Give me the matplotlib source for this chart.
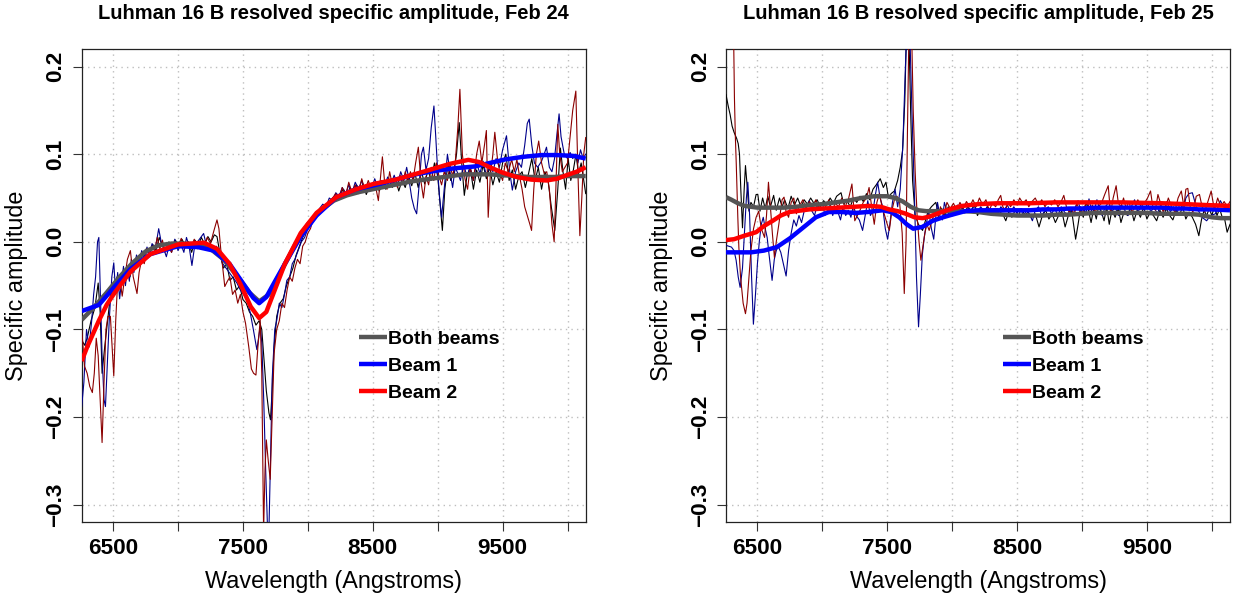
import matplotlib
matplotlib.use("Agg")
import matplotlib.pyplot as plt

plt.rcParams['font.family'] = ['Liberation Sans', 'DejaVu Sans']

# ---------------- data (wavelength in Angstrom, specific amplitude) ----------------
TITLES = ["Luhman 16 B resolved specific amplitude, Feb 24",
          "Luhman 16 B resolved specific amplitude, Feb 25"]
LEGEND_LABELS = ["Both beams", "Beam 1", "Beam 2"]
XTICKS = [6500, 7000, 7500, 8000, 8500, 9000, 9500, 10000]
XTICKLABELS = ["6500", "", "7500", "", "8500", "", "9500", ""]
YTICKS = [-0.3, -0.2, -0.1, 0.0, 0.1, 0.2]
YTICKLABELS = ["\u22120.3", "\u22120.2", "\u22120.1", "0.0", "0.1", "0.2"]

# ---- Feb 24 : raw (thin) curves ----
L_BOTH_RAW = [(6258,-0.112),(6280,-0.118),(6300,-0.110),(6330,-0.090),(6360,-0.075),(6385,-0.047),
 (6400,-0.080),(6415,-0.150),(6435,-0.120),(6455,-0.093),(6480,-0.060),(6505,-0.055),(6530,-0.040),
 (6555,-0.050),(6580,-0.035),(6605,-0.030),(6630,-0.040),(6655,-0.022),(6680,-0.030),(6705,-0.015),
 (6730,-0.020),(6755,-0.008),(6780,-0.012),(6805,-0.003),(6830,-0.010),(6855,0.005),(6880,-0.005),
 (6905,-0.010),(6930,0.000),(6955,-0.008),(6980,0.002),(7005,-0.006),(7030,0.003),(7055,-0.004),
 (7080,0.000),(7105,-0.012),(7130,0.002),(7155,-0.004),(7180,0.005),(7205,-0.003),(7230,0.006),
 (7255,0.000),(7280,0.008),(7300,0.006),(7325,-0.015),(7350,-0.030),(7375,-0.025),(7400,-0.044),
 (7425,-0.040),(7450,-0.055),(7475,-0.050),(7500,-0.066),(7525,-0.070),(7550,-0.080),(7575,-0.085),
 (7600,-0.095),(7625,-0.090),(7645,-0.100),(7660,-0.130),(7680,-0.170),(7700,-0.195),(7712,-0.203),
 (7725,-0.170),(7740,-0.120),(7760,-0.085),(7785,-0.070),(7810,-0.065),(7835,-0.050),(7860,-0.040),
 (7885,-0.030),(7910,-0.015),(7935,-0.005),(7960,0.005),(7985,0.012),(8010,0.020),(8040,0.025),
 (8070,0.033),(8100,0.038),(8130,0.042),(8160,0.045),(8190,0.050),(8220,0.052),(8250,0.055),
 (8275,0.060),(8300,0.052),(8325,0.062),(8350,0.055),(8375,0.065),(8400,0.058),(8425,0.066),
 (8450,0.054),(8475,0.064),(8500,0.060),(8525,0.068),(8550,0.058),(8575,0.066),(8600,0.060),
 (8625,0.070),(8650,0.062),(8675,0.072),(8700,0.058),(8725,0.070),(8750,0.062),(8775,0.076),
 (8800,0.064),(8825,0.078),(8850,0.062),(8875,0.080),(8900,0.066),(8925,0.082),(8950,0.070),
 (8975,0.090),(9000,0.075),(9020,0.040),(9036,0.013),(9055,0.060),(9080,0.090),(9100,0.070),
 (9125,0.080),(9145,0.100),(9166,0.136),(9185,0.090),(9205,0.053),(9225,0.075),(9250,0.085),
 (9275,0.060),(9300,0.082),(9325,0.068),(9350,0.088),(9375,0.072),(9400,0.085),(9425,0.065),
 (9450,0.080),(9475,0.068),(9500,0.090),(9525,0.100),(9550,0.070),(9575,0.082),(9600,0.060),
 (9625,0.075),(9650,0.080),(9675,0.062),(9700,0.078),(9725,0.095),(9750,0.070),(9775,0.085),
 (9800,0.060),(9825,0.080),(9850,0.070),(9875,0.040),(9902,0.013),(9925,0.060),(9945,0.107),
 (9965,0.080),(9985,0.060),(10005,0.095),(10025,0.070),(10045,0.082),(10065,0.100),(10085,0.078),
 (10105,0.090),(10125,0.070),(10140,0.055)]

L_B1_RAW = [(6258,-0.188),(6275,-0.160),(6295,-0.100),(6315,-0.120),(6335,-0.090),(6350,-0.060),
 (6365,-0.040),(6380,0.000),(6390,0.005),(6400,-0.050),(6415,-0.130),(6430,-0.180),(6441,-0.188),
 (6455,-0.140),(6470,-0.090),(6490,-0.040),(6505,-0.024),(6520,-0.059),(6535,-0.035),(6550,-0.065),
 (6565,-0.045),(6580,-0.028),(6595,-0.050),(6610,-0.030),(6625,-0.045),(6640,-0.020),(6660,-0.035),
 (6680,-0.015),(6700,-0.025),(6720,-0.010),(6740,-0.018),(6761,-0.006),(6780,-0.015),(6800,-0.002),
 (6825,-0.008),(6851,0.015),(6870,0.000),(6890,-0.008),(6910,-0.017),(6930,-0.005),(6950,-0.012),
 (6975,0.003),(7000,-0.010),(7020,-0.002),(7045,-0.012),(7065,0.005),(7085,-0.005),(7107,-0.027),
 (7125,-0.008),(7150,0.000),(7175,0.005),(7197,0.0095),(7220,-0.005),(7245,-0.002),(7270,-0.010),
 (7295,-0.005),(7320,-0.015),(7345,-0.025),(7370,-0.030),(7395,-0.035),(7420,-0.040),(7454,-0.047),
 (7480,-0.055),(7505,-0.060),(7531,-0.066),(7555,-0.080),(7580,-0.100),(7607,-0.123),(7620,-0.110),
 (7633,-0.097),(7645,-0.115),(7660,-0.180),(7675,-0.260),(7690,-0.330),(7700,-0.330),(7712,-0.250),
 (7725,-0.157),(7745,-0.100),(7761,-0.089),(7780,-0.070),(7800,-0.075),(7820,-0.060),(7838,-0.044),
 (7860,-0.040),(7880,-0.025),(7900,-0.020),(7925,-0.010),(7950,0.000),(7975,0.005),(8000,0.015),
 (8018,0.021),(8040,0.028),(8065,0.032),(8090,0.038),(8115,0.043),(8140,0.040),(8165,0.050),
 (8190,0.047),(8215,0.056),(8240,0.052),(8265,0.062),(8290,0.054),(8315,0.065),(8340,0.056),
 (8365,0.068),(8390,0.060),(8415,0.070),(8440,0.058),(8465,0.066),(8490,0.060),(8515,0.072),
 (8540,0.062),(8565,0.070),(8590,0.064),(8615,0.074),(8640,0.066),(8665,0.076),(8690,0.064),
 (8715,0.080),(8740,0.070),(8761,0.085),(8780,0.070),(8800,0.050),(8820,0.038),(8838,0.032),
 (8860,0.070),(8875,0.100),(8890,0.108),(8910,0.082),(8930,0.095),(8950,0.130),(8971,0.155),
 (8985,0.120),(9000,0.080),(9015,0.050),(9030,0.028),(9050,0.060),(9075,0.100),(9095,0.080),
 (9115,0.062),(9135,0.085),(9155,0.078),(9175,0.070),(9200,0.088),(9225,0.075),(9250,0.085),
 (9275,0.070),(9300,0.090),(9325,0.078),(9350,0.092),(9375,0.075),(9400,0.088),(9425,0.080),
 (9450,0.095),(9475,0.085),(9500,0.105),(9530,0.121),(9555,0.080),(9575,0.059),(9600,0.080),
 (9625,0.090),(9645,0.085),(9670,0.110),(9690,0.135),(9705,0.140),(9725,0.110),(9745,0.090),
 (9770,0.085),(9800,0.092),(9820,0.100),(9838,0.108),(9860,0.085),(9880,0.080),(9900,0.095),
 (9920,0.125),(9935,0.146),(9950,0.120),(9975,0.100),(10000,0.095),(10020,0.102),(10040,0.095),
 (10060,0.100),(10080,0.090),(10100,0.105),(10120,0.095),(10140,0.100)]

L_B2_RAW = [(6258,-0.100),(6280,-0.142),(6300,-0.150),(6320,-0.165),(6340,-0.172),(6355,-0.150),
 (6370,-0.110),(6385,-0.130),(6400,-0.180),(6415,-0.229),(6430,-0.160),(6445,-0.100),(6460,-0.085),
 (6479,-0.085),(6492,-0.120),(6505,-0.153),(6520,-0.090),(6535,-0.045),(6550,-0.040),(6570,-0.062),
 (6590,-0.040),(6610,-0.020),(6633,-0.010),(6655,-0.040),(6684,-0.059),(6700,-0.035),(6720,-0.020),
 (6740,-0.025),(6760,-0.008),(6780,-0.015),(6800,-0.005),(6820,-0.010),(6840,0.005),(6860,-0.008),
 (6880,0.002),(6900,-0.012),(6925,-0.003),(6950,-0.012),(6975,0.000),(7000,-0.005),(7025,0.004),
 (7050,-0.008),(7075,0.000),(7100,-0.006),(7125,0.003),(7150,-0.008),(7175,0.000),(7200,-0.005),
 (7225,0.005),(7250,-0.002),(7275,0.012),(7300,0.025),(7315,0.015),(7330,-0.010),(7345,-0.030),
 (7360,-0.051),(7380,-0.045),(7400,-0.040),(7420,-0.060),(7440,-0.055),(7460,-0.070),(7480,-0.060),
 (7500,-0.080),(7520,-0.093),(7545,-0.120),(7565,-0.145),(7582,-0.150),(7600,-0.152),(7615,-0.120),
 (7633,-0.089),(7645,-0.150),(7659,-0.330),(7670,-0.260),(7680,-0.226),(7695,-0.250),(7710,-0.271),
 (7725,-0.200),(7740,-0.127),(7760,-0.100),(7780,-0.090),(7800,-0.070),(7820,-0.075),(7840,-0.055),
 (7860,-0.040),(7880,-0.045),(7900,-0.030),(7920,-0.020),(7940,-0.025),(7960,-0.005),(7980,0.000),
 (8000,0.010),(8020,0.015),(8040,0.025),(8065,0.030),(8090,0.035),(8115,0.040),(8140,0.038),
 (8165,0.045),(8190,0.050),(8215,0.055),(8240,0.048),(8265,0.062),(8290,0.052),(8315,0.068),
 (8340,0.056),(8365,0.065),(8390,0.055),(8415,0.072),(8440,0.058),(8465,0.070),(8490,0.060),
 (8515,0.068),(8543,0.047),(8560,0.075),(8574,0.097),(8590,0.070),(8610,0.060),(8630,0.080),
 (8650,0.065),(8670,0.072),(8690,0.062),(8710,0.076),(8730,0.066),(8750,0.080),(8770,0.068),
 (8790,0.080),(8810,0.070),(8830,0.090),(8851,0.108),(8870,0.070),(8890,0.050),(8910,0.075),
 (8930,0.065),(8950,0.085),(8970,0.070),(8990,0.090),(9010,0.075),(9030,0.065),(9050,0.080),
 (9075,0.070),(9095,0.088),(9115,0.075),(9135,0.090),(9155,0.130),(9171,0.174),(9190,0.100),
 (9210,0.072),(9230,0.060),(9250,0.085),(9275,0.070),(9300,0.100),(9320,0.115),(9340,0.090),
 (9360,0.110),(9375,0.127),(9389,0.028),(9405,0.075),(9425,0.100),(9440,0.125),(9460,0.095),
 (9480,0.078),(9500,0.070),(9520,0.090),(9545,0.080),(9570,0.094),(9590,0.080),(9610,0.094),
 (9630,0.075),(9650,0.060),(9670,0.040),(9690,0.030),(9710,0.020),(9723,0.013),(9740,0.060),
 (9760,0.100),(9778,0.115),(9800,0.090),(9820,0.078),(9840,0.080),(9860,0.060),(9880,0.020),
 (9897,0.000),(9910,0.060),(9925,0.134),(9940,0.100),(9960,0.080),(9980,0.085),(10000,0.090),
 (10020,0.120),(10040,0.150),(10064,0.172),(10080,0.080),(10095,0.007),(10110,0.050),(10125,0.100),
 (10140,0.119)]

# ---- Feb 24 : smooth (thick) curves ----
L_BOTH_FIT = [(6258,-0.089),(6350,-0.075),(6450,-0.058),(6550,-0.040),(6650,-0.024),(6750,-0.011),
 (6850,-0.004),(6950,-0.002),(7050,-0.002),(7150,-0.003),(7250,-0.008),(7350,-0.020),(7450,-0.038),
 (7550,-0.058),(7625,-0.068),(7700,-0.060),(7800,-0.032),(7900,-0.004),(8000,0.020),(8100,0.036),
 (8200,0.047),(8300,0.053),(8400,0.057),(8500,0.060),(8600,0.063),(8700,0.066),(8800,0.069),
 (8900,0.071),(9000,0.073),(9100,0.075),(9200,0.077),(9300,0.077),(9400,0.077),(9500,0.076),
 (9600,0.075),(9700,0.074),(9800,0.074),(9900,0.074),(10000,0.075),(10140,0.075)]
L_B1_FIT = [(6258,-0.079),(6390,-0.072),(6512,-0.051),(6634,-0.031),(6787,-0.014),(7000,-0.005),
 (7152,-0.006),(7274,-0.010),(7396,-0.025),(7518,-0.051),(7580,-0.064),(7625,-0.070),(7680,-0.063),
 (7732,-0.049),(7823,-0.025),(7945,0.006),(8067,0.030),(8220,0.051),(8372,0.060),(8525,0.065),
 (8677,0.071),(8830,0.077),(8982,0.081),(9134,0.084),(9287,0.086),(9402,0.090),(9520,0.094),
 (9659,0.097),(9800,0.099),(9915,0.099),(10049,0.098),(10140,0.095)]
L_B2_FIT = [(6258,-0.136),(6300,-0.120),(6390,-0.090),(6450,-0.072),(6512,-0.058),(6634,-0.034),
 (6787,-0.014),(7000,-0.003),(7200,-0.001),(7300,-0.008),(7396,-0.025),(7480,-0.048),(7560,-0.074),
 (7625,-0.087),(7680,-0.080),(7745,-0.055),(7823,-0.025),(7945,0.010),(8067,0.033),(8220,0.051),
 (8372,0.060),(8505,0.066),(8677,0.071),(8890,0.080),(9095,0.089),(9236,0.0935),(9320,0.091),
 (9402,0.085),(9500,0.079),(9607,0.074),(9720,0.071),(9838,0.070),(9920,0.072),(9992,0.076),
 (10070,0.080),(10140,0.085)]

# ---- Feb 25 : raw (thin) curves ----
R_BOTH_RAW = [(6258,0.168),(6275,0.155),(6290,0.145),(6305,0.132),(6320,0.125),(6340,0.118),
 (6352,0.112),(6362,0.100),(6372,0.060),(6385,0.016),(6398,0.060),(6408,0.087),(6420,0.065),
 (6435,0.035),(6450,0.045),(6470,0.040),(6490,0.054),(6503,0.054),(6520,0.035),(6540,0.050),
 (6560,0.038),(6580,0.052),(6600,0.040),(6625,0.053),(6645,0.036),(6670,0.050),(6690,0.040),
 (6710,0.048),(6735,0.038),(6760,0.052),(6785,0.042),(6810,0.050),(6835,0.040),(6860,0.048),
 (6885,0.043),(6910,0.050),(6935,0.044),(6960,0.048),(6985,0.040),(7010,0.047),(7035,0.042),
 (7060,0.050),(7085,0.044),(7110,0.052),(7144,0.056),(7165,0.043),(7190,0.047),(7215,0.040),
 (7240,0.050),(7265,0.045),(7290,0.052),(7315,0.046),(7340,0.055),(7365,0.048),(7390,0.060),
 (7420,0.066),(7446,0.072),(7470,0.062),(7490,0.068),(7510,0.050),(7530,0.055),(7555,0.058),
 (7580,0.070),(7600,0.085),(7618,0.104),(7635,0.160),(7650,0.250),(7665,0.250),(7680,0.150),
 (7695,0.070),(7715,0.030),(7740,0.020),(7772,0.013),(7795,0.025),(7815,0.035),(7840,0.040),
 (7874,0.045),(7895,0.032),(7920,0.038),(7945,0.030),(7970,0.040),(7995,0.032),(8020,0.040),
 (8045,0.035),(8070,0.042),(8095,0.033),(8120,0.040),(8145,0.034),(8170,0.042),(8195,0.030),
 (8220,0.038),(8245,0.032),(8270,0.040),(8295,0.035),(8320,0.030),(8345,0.038),(8370,0.034),
 (8395,0.030),(8413,0.024),(8435,0.034),(8460,0.028),(8485,0.036),(8510,0.030),(8535,0.038),
 (8560,0.030),(8585,0.034),(8610,0.028),(8640,0.032),(8669,0.017),(8695,0.030),(8720,0.036),
 (8745,0.026),(8770,0.032),(8795,0.022),(8820,0.030),(8845,0.035),(8870,0.017),(8895,0.030),
 (8920,0.036),(8935,0.020),(8951,0.003),(8970,0.020),(8990,0.040),(9010,0.028),(9030,0.045),
 (9050,0.036),(9070,0.022),(9090,0.038),(9110,0.026),(9130,0.042),(9150,0.034),(9170,0.024),
 (9190,0.040),(9210,0.020),(9230,0.036),(9255,0.028),(9280,0.038),(9300,0.022),(9325,0.035),
 (9350,0.030),(9375,0.040),(9400,0.024),(9425,0.036),(9450,0.028),(9475,0.040),(9500,0.026),
 (9525,0.034),(9550,0.030),(9575,0.024),(9600,0.036),(9625,0.028),(9650,0.038),(9675,0.030),
 (9700,0.025),(9725,0.036),(9750,0.030),(9775,0.040),(9800,0.026),(9825,0.034),(9850,0.028),
 (9875,0.020),(9900,0.007),(9920,0.025),(9940,0.036),(9960,0.030),(9980,0.038),(10000,0.030),
 (10020,0.040),(10040,0.030),(10060,0.038),(10080,0.028),(10100,0.025),(10118,0.011),(10140,0.020)]

R_B1_RAW = [(6258,-0.004),(6280,-0.005),(6300,-0.006),(6320,-0.010),(6336,-0.021),(6352,-0.040),
 (6367,-0.052),(6385,-0.030),(6400,0.010),(6415,0.050),(6426,0.068),(6440,0.030),(6455,-0.040),
 (6469,-0.094),(6485,-0.060),(6500,-0.025),(6515,0.001),(6530,0.020),(6545,0.028),(6560,0.015),
 (6575,0.005),(6590,-0.015),(6613,-0.044),(6630,-0.020),(6645,-0.010),(6660,-0.005),(6680,-0.012),
 (6700,-0.025),(6721,-0.039),(6740,-0.010),(6760,0.010),(6780,0.025),(6800,0.018),(6820,0.030),
 (6840,0.022),(6860,0.035),(6880,0.040),(6900,0.047),(6920,0.035),(6940,0.030),(6960,0.042),
 (6980,0.038),(7000,0.045),(7020,0.030),(7040,0.036),(7060,0.042),(7080,0.030),(7100,0.040),
 (7120,0.034),(7140,0.025),(7160,0.040),(7180,0.030),(7200,0.036),(7220,0.028),(7240,0.042),
 (7260,0.030),(7285,0.025),(7310,0.013),(7330,0.030),(7350,0.047),(7370,0.030),(7390,0.035),
 (7410,0.055),(7426,0.068),(7445,0.050),(7465,0.040),(7485,0.015),(7503,0.003),(7520,0.020),
 (7540,0.045),(7560,0.060),(7580,0.040),(7600,0.060),(7620,0.110),(7640,0.200),(7655,0.260),
 (7670,0.260),(7690,0.150),(7710,0.050),(7725,-0.040),(7741,-0.097),(7755,-0.060),(7770,-0.015),
 (7785,0.005),(7800,0.020),(7820,0.035),(7840,0.015),(7858,0.003),(7875,0.030),(7887,0.045),
 (7905,0.030),(7925,0.025),(7940,0.045),(7960,0.035),(7980,0.030),(8000,0.040),(8020,0.034),
 (8040,0.042),(8060,0.036),(8080,0.040),(8100,0.033),(8120,0.040),(8145,0.036),(8170,0.042),
 (8195,0.034),(8220,0.040),(8245,0.035),(8270,0.040),(8300,0.034),(8325,0.038),(8350,0.032),
 (8375,0.040),(8400,0.036),(8425,0.042),(8450,0.034),(8475,0.040),(8500,0.033),(8525,0.038),
 (8550,0.030),(8575,0.036),(8600,0.030),(8618,0.024),(8640,0.036),(8665,0.040),(8690,0.030),
 (8715,0.036),(8740,0.040),(8765,0.032),(8790,0.038),(8815,0.030),(8840,0.040),(8865,0.034),
 (8890,0.030),(8910,0.038),(8930,0.030),(8950,0.040),(8970,0.047),(8990,0.035),(9010,0.040),
 (9030,0.032),(9054,0.049),(9075,0.034),(9095,0.036),(9115,0.048),(9135,0.038),(9155,0.030),
 (9180,0.040),(9205,0.045),(9230,0.034),(9255,0.040),(9280,0.030),(9305,0.042),(9330,0.036),
 (9355,0.030),(9380,0.040),(9405,0.048),(9430,0.034),(9455,0.040),(9480,0.036),(9505,0.044),
 (9530,0.034),(9555,0.040),(9580,0.032),(9605,0.042),(9630,0.036),(9655,0.046),(9680,0.034),
 (9705,0.040),(9730,0.032),(9755,0.044),(9780,0.036),(9800,0.050),(9823,0.055),(9850,0.056),
 (9880,0.040),(9925,0.028),(9960,0.024),(9990,0.030),(10028,0.032),(10066,0.047),(10090,0.040),
 (10118,0.038),(10140,0.036)]

R_B2_RAW = [(6258,0.450),(6290,0.350),(6318,0.220),(6323,0.164),(6330,0.120),(6337,0.089),
 (6349,0.028),(6357,-0.006),(6370,-0.040),(6390,-0.070),(6408,-0.082),(6420,-0.070),(6433,-0.044),
 (6450,-0.010),(6470,0.015),(6490,0.028),(6510,0.035),(6530,0.015),(6555,0.005),(6570,0.030),
 (6585,0.068),(6600,0.040),(6615,0.010),(6631,-0.018),(6645,0.000),(6665,0.020),(6690,0.048),
 (6705,0.051),(6720,0.035),(6740,0.028),(6760,0.045),(6780,0.050),(6800,0.032),(6820,0.040),
 (6850,0.048),(6875,0.038),(6900,0.046),(6925,0.040),(6950,0.048),(6975,0.038),(7000,0.045),
 (7025,0.040),(7050,0.048),(7075,0.036),(7100,0.044),(7125,0.040),(7150,0.050),(7175,0.040),
 (7200,0.048),(7228,0.066),(7250,0.024),(7270,0.030),(7290,0.036),(7315,0.045),(7340,0.050),
 (7360,0.062),(7380,0.040),(7400,0.020),(7420,0.045),(7440,0.055),(7460,0.040),(7480,0.030),
 (7500,0.020),(7516,0.013),(7535,0.035),(7555,0.048),(7575,0.052),(7595,0.045),(7615,0.010),
 (7631,-0.059),(7645,0.000),(7655,0.120),(7669,0.260),(7685,0.260),(7700,0.150),(7715,0.080),
 (7730,0.030),(7745,0.000),(7759,-0.021),(7775,-0.005),(7790,0.010),(7805,0.020),(7823,0.013),
 (7845,0.025),(7875,0.035),(7895,0.028),(7910,0.040),(7935,0.030),(7960,0.045),(7985,0.038),
 (8010,0.044),(8035,0.036),(8060,0.045),(8085,0.038),(8110,0.046),(8135,0.040),(8160,0.048),
 (8185,0.040),(8210,0.050),(8235,0.042),(8260,0.048),(8285,0.036),(8310,0.044),(8335,0.040),
 (8355,0.048),(8374,0.053),(8390,0.040),(8410,0.036),(8430,0.045),(8450,0.040),(8475,0.048),
 (8500,0.042),(8520,0.050),(8545,0.044),(8570,0.048),(8590,0.040),(8615,0.046),(8640,0.050),
 (8665,0.042),(8690,0.048),(8715,0.040),(8740,0.046),(8765,0.042),(8790,0.048),(8815,0.040),
 (8840,0.046),(8860,0.053),(8880,0.040),(8900,0.034),(8920,0.038),(8940,0.030),(8960,0.044),
 (8980,0.036),(9000,0.030),(9020,0.040),(9040,0.046),(9060,0.036),(9080,0.042),(9100,0.034),
 (9125,0.040),(9150,0.044),(9175,0.054),(9202,0.064),(9220,0.032),(9240,0.050),(9263,0.064),
 (9280,0.044),(9300,0.040),(9320,0.050),(9340,0.038),(9360,0.046),(9385,0.034),(9410,0.040),
 (9430,0.048),(9455,0.040),(9480,0.044),(9505,0.050),(9528,0.058),(9545,0.040),(9565,0.036),
 (9585,0.054),(9605,0.044),(9625,0.034),(9645,0.040),(9665,0.050),(9690,0.040),(9715,0.034),
 (9740,0.050),(9765,0.058),(9785,0.040),(9800,0.060),(9815,0.061),(9835,0.038),(9855,0.034),
 (9880,0.052),(9905,0.054),(9925,0.040),(9945,0.034),(9970,0.046),(9995,0.058),(10020,0.036),
 (10045,0.050),(10070,0.040),(10095,0.046),(10118,0.040),(10140,0.046)]

# ---- Feb 25 : smooth (thick) curves ----
R_BOTH_FIT = [(6258,0.051),(6300,0.048),(6350,0.044),(6400,0.041),(6500,0.039),(6600,0.039),
 (6700,0.039),(6800,0.040),(6900,0.042),(7000,0.043),(7100,0.045),(7200,0.047),(7300,0.050),
 (7400,0.052),(7500,0.052),(7560,0.050),(7620,0.046),(7680,0.040),(7740,0.036),(7800,0.035),
 (7900,0.035),(8000,0.035),(8100,0.035),(8200,0.034),(8300,0.032),(8400,0.031),(8500,0.030),
 (8600,0.030),(8700,0.030),(8800,0.031),(8900,0.031),(9000,0.032),(9100,0.033),(9200,0.033),
 (9300,0.033),(9400,0.033),(9500,0.033),(9600,0.032),(9700,0.032),(9800,0.032),(9900,0.031),
 (10000,0.028),(10070,0.027),(10140,0.027)]
R_B1_FIT = [(6258,-0.012),(6350,-0.012),(6450,-0.012),(6550,-0.010),(6650,-0.006),(6750,0.004),
 (6800,0.010),(6875,0.019),(6950,0.028),(7050,0.034),(7150,0.034),(7259,0.033),(7350,0.034),
 (7464,0.036),(7530,0.034),(7592,0.028),(7650,0.020),(7700,0.015),(7770,0.017),(7850,0.024),
 (7930,0.028),(8000,0.031),(8100,0.035),(8200,0.036),(8300,0.036),(8400,0.036),(8500,0.036),
 (8600,0.036),(8700,0.037),(8800,0.037),(8900,0.038),(9000,0.038),(9105,0.039),(9200,0.039),
 (9300,0.039),(9400,0.039),(9500,0.039),(9618,0.039),(9700,0.038),(9800,0.038),(9900,0.037),
 (10000,0.037),(10140,0.036)]
R_B2_FIT = [(6258,0.002),(6320,0.003),(6400,0.007),(6490,0.011),(6550,0.018),(6618,0.024),
 (6680,0.030),(6746,0.034),(6900,0.037),(7131,0.039),(7362,0.041),(7450,0.040),(7515,0.037),
 (7580,0.035),(7644,0.032),(7710,0.028),(7772,0.027),(7830,0.029),(7900,0.033),(8000,0.038),
 (8079,0.041),(8200,0.043),(8350,0.044),(8592,0.044),(8800,0.045),(9105,0.045),(9300,0.045),
 (9618,0.044),(9800,0.043),(9950,0.042),(10140,0.041)]

PANELS = [
    (TITLES[0], L_BOTH_RAW, L_B1_RAW, L_B2_RAW, L_BOTH_FIT, L_B1_FIT, L_B2_FIT),
    (TITLES[1], R_BOTH_RAW, R_B1_RAW, R_B2_RAW, R_BOTH_FIT, R_B1_FIT, R_B2_FIT),
]

RAW_COLORS = ["black", "#00008B", "#8B0000"]
FIT_COLORS = ["#555555", "#0000FF", "#FF0000"]

# ---------------- figure ----------------
W, H = 1237, 599
fig = plt.figure(figsize=(W / 100, H / 100), dpi=100)


def axes_px(x0, y0, x1, y1):
    return fig.add_axes([x0 / W, 1 - y1 / H, (x1 - x0) / W, (y1 - y0) / H])


axes = [axes_px(81.7, 49, 585.7, 522.3), axes_px(726, 49, 1230, 522.3)]

for ax, (title, raw_a, raw_b, raw_c, fit_a, fit_b, fit_c) in zip(axes, PANELS):
    for series, col in zip((raw_a, raw_b, raw_c), RAW_COLORS):
        xs, ys = zip(*series)
        ax.plot(xs, ys, color=col, lw=0.8, zorder=3)
    handles = []
    for series, col in zip((fit_a, fit_b, fit_c), FIT_COLORS):
        xs, ys = zip(*series)
        ln, = ax.plot(xs, ys, color=col, lw=3.2, zorder=4, solid_capstyle='butt')
        handles.append(ln)

    ax.set_xlim(6258, 10140)
    ax.set_ylim(-0.32, 0.22)
    ax.set_xticks(XTICKS)
    ax.set_xticklabels(XTICKLABELS, fontsize=16.2, fontweight='bold')
    ax.set_yticks(YTICKS)
    ax.set_yticklabels(YTICKLABELS, fontsize=16.2, fontweight='bold', rotation=90, va='center')
    ax.tick_params(axis='both', direction='out', length=6.5, width=0.8, color='#333333')
    ax.tick_params(axis='x', pad=5)
    ax.tick_params(axis='y', pad=4.5)
    ax.grid(True, color='#BEBEBE', linestyle=(0, (1, 3)), linewidth=1.0)
    ax.set_axisbelow(True)
    for sp in ax.spines.values():
        sp.set_linewidth(0.9)
        sp.set_color('#222222')

    ax.text(0.5, 1 + 29.7 / 473.3, title, transform=ax.transAxes, ha='center',
            va='baseline', fontsize=14.5, fontweight='bold')
    ax.set_xlabel("Wavelength (Angstroms)", fontsize=16.8, va='baseline')
    ax.xaxis.set_label_coords(0.5, -(587.7 - 522.3) / 473.3)
    ax.set_ylabel("Specific amplitude", fontsize=16.8, va='baseline')
    ax.yaxis.set_label_coords(-(81.7 - 23.5) / 504, 0.5)

    ax.legend(handles, LEGEND_LABELS, loc='upper left', bbox_to_anchor=(0.5494, 0.4061),
              frameon=False, borderpad=0, borderaxespad=0, handlelength=1.45,
              handletextpad=0.05, labelspacing=0.48,
              prop={'weight': 'bold', 'size': 14, 'family': ['Liberation Sans', 'DejaVu Sans']})

fig.savefig("out.png", dpi=100)
